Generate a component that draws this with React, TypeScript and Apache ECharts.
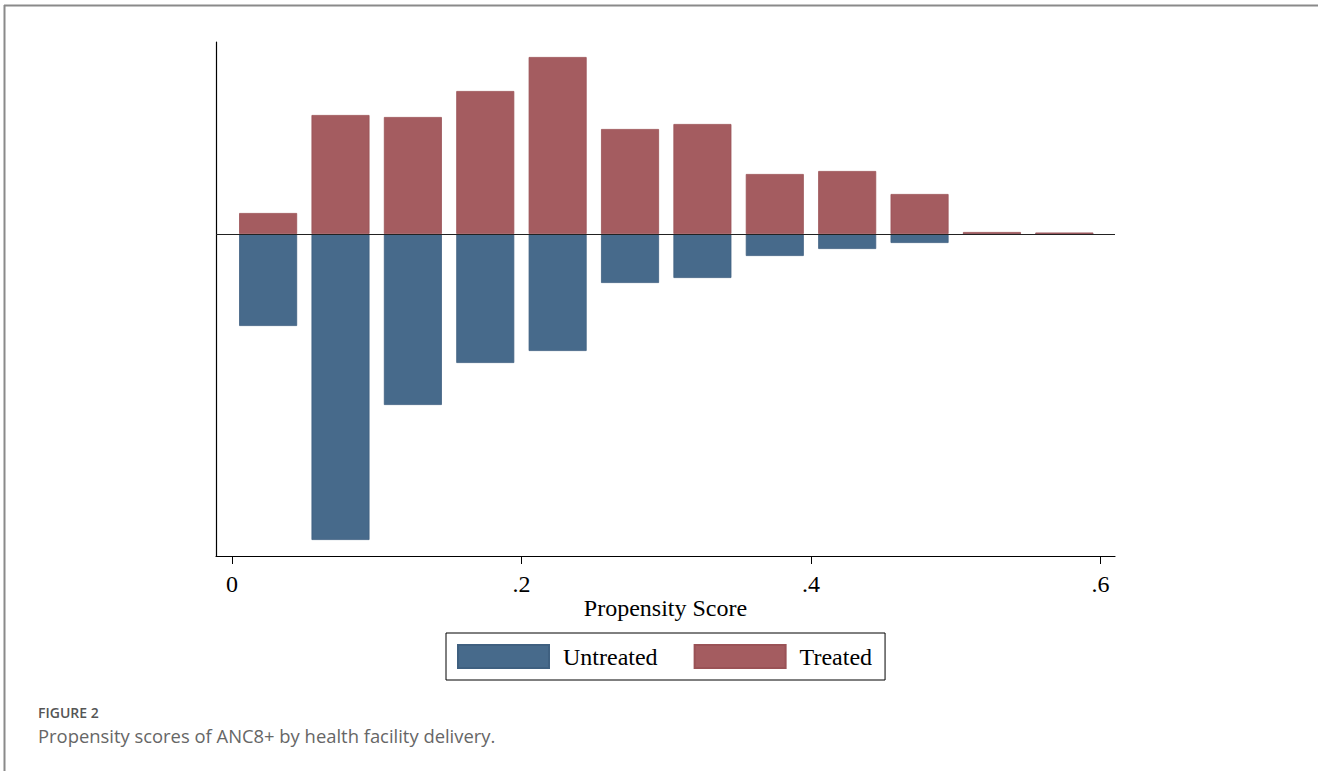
import React, { useEffect, useRef } from "react";
import * as echarts from "echarts";

const binCenters = [0.025, 0.075, 0.125, 0.175, 0.225, 0.275, 0.325, 0.375, 0.425, 0.475, 0.525, 0.575];
const treated = [21, 119, 117, 143, 177, 105, 110, 60, 63, 40, 2, 1.5];
const untreated = [-92, -306, -171, -129, -117, -49, -44, -22, -15, -9, 0, 0];
const xTicks = [0, 0.2, 0.4, 0.6];
const xTickLabels = ["0", ".2", ".4", ".6"];
const seriesNames = ["Untreated", "Treated"];
const colors = ["#476a8b", "#a45c60"];

export default function App() {
  const ref = useRef<HTMLDivElement>(null);
  useEffect(() => {
    if (!ref.current) return;
    const chart = echarts.init(ref.current, null, { renderer: "svg" });
    const serif = "Liberation Serif";
    chart.setOption({
      animation: false,
      backgroundColor: "#fff",
      grid: { left: 216, right: 203, top: 42, bottom: 215 },
      legend: {
        left: 446,
        top: 633,
        data: seriesNames,
        itemWidth: 91,
        itemHeight: 23,
        itemGap: 36,
        padding: [11, 13, 11, 11],
        borderColor: "#000",
        borderWidth: 1,
        borderRadius: 0,
        icon: "rect",
        textStyle: { fontFamily: serif, fontSize: 24, color: "#000", padding: [0, 0, 0, 9] },
      },
      xAxis: {
        type: "value",
        min: -0.011,
        max: 0.61,
        splitLine: { show: false },
        axisLine: { show: true, onZero: false, lineStyle: { color: "#000", width: 1.2 } },
        axisTick: { show: true, customValues: xTicks, length: 8, lineStyle: { color: "#000" } },
        axisLabel: {
          customValues: xTicks,
          formatter: (v: number) => xTickLabels[xTicks.findIndex((t) => Math.abs(t - v) < 1e-9)] ?? "",
          fontFamily: serif,
          fontSize: 24,
          color: "#000",
          margin: 16,
        },
        name: "Propensity Score",
        nameLocation: "middle",
        nameGap: 40,
        nameMoveOverlap: false,
        nameTextStyle: { fontFamily: serif, fontSize: 24, color: "#000" },
      },
      yAxis: {
        type: "value",
        min: -322,
        max: 192,
        splitLine: { show: false },
        axisLine: { show: true, onZero: false, lineStyle: { color: "#000", width: 1.2 } },
        axisTick: { show: false },
        axisLabel: { show: false },
      },
      series: [
        {
          name: seriesNames[0],
          type: "bar",
          data: binCenters.map((x, i) => [x, untreated[i]]),
          barWidth: 58,
          barGap: "-100%",
          itemStyle: { color: colors[0], borderColor: "#3f6080", borderWidth: 0.8 },
          markLine: {
            silent: true,
            symbol: "none",
            label: { show: false },
            lineStyle: { color: "#222", width: 1.2, type: "solid" },
            data: [{ yAxis: 0 }],
          },
          z: 2,
        },
        {
          name: seriesNames[1],
          type: "bar",
          data: binCenters.map((x, i) => [x, treated[i]]),
          barWidth: 58,
          barGap: "-100%",
          itemStyle: { color: colors[1], borderColor: "#9a5256", borderWidth: 0.8 },
          z: 2,
        },
      ],
      graphic: [
        { type: "line", shape: { x1: 4, y1: 5.5, x2: 1318, y2: 5.5 }, style: { stroke: "#8a8a8a", lineWidth: 2 } },
        { type: "line", shape: { x1: 4.5, y1: 5, x2: 4.5, y2: 771 }, style: { stroke: "#8a8a8a", lineWidth: 2 } },
        {
          type: "text",
          left: 38,
          top: 705,
          style: { text: "FIGURE 2", fontFamily: "Open Sans", fontSize: 14, fontWeight: 600, fill: "#555" },
        },
        {
          type: "text",
          left: 38,
          top: 726,
          style: {
            text: "Propensity scores of ANC8+ by health facility delivery.",
            fontFamily: "Open Sans",
            fontSize: 18.4,
            fill: "#666",
          },
        },
      ],
    });
    return () => chart.dispose();
  }, []);
  return (
    <div
      ref={ref}
      style={{ position: "absolute", left: 0, top: 0, width: 1318, height: 771 }}
    />
  );
}
